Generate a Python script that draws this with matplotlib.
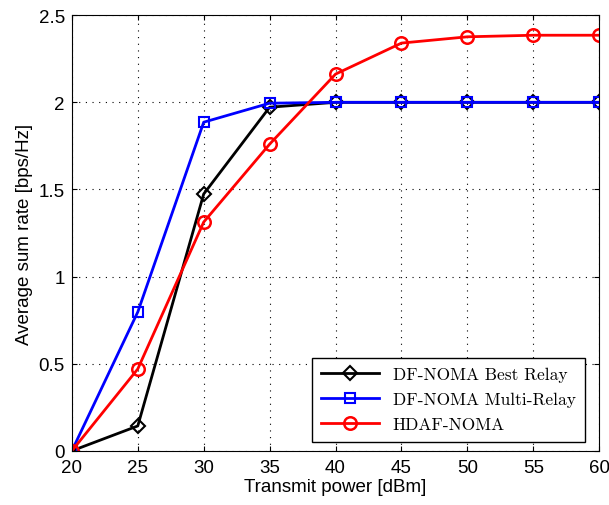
import matplotlib.pyplot as plt

power = [20, 25, 30, 35, 40, 45, 50, 55, 60]
best_relay = [0.0, 0.143, 1.474, 1.972, 2.0, 2.0, 2.0, 2.0, 2.0]
multi_relay = [0.0, 0.797, 1.886, 1.995, 2.0, 2.0, 2.0, 2.0, 2.0]
hdaf = [0.0, 0.470, 1.313, 1.760, 2.162, 2.340, 2.376, 2.385, 2.385]

plt.rcParams['font.family'] = ['Liberation Sans', 'DejaVu Sans']

fig = plt.figure(figsize=(6.09, 5.06), dpi=100)
ax = fig.add_axes([0.118, 0.107, 0.866, 0.861])

ax.plot(power, best_relay, color='black', marker='D', markersize=7, mfc='none', mew=1.5, lw=2, label='DF-NOMA Best Relay')
ax.plot(power, multi_relay, color='blue', marker='s', markersize=7, mfc='none', mew=1.5, lw=2, label='DF-NOMA Multi-Relay')
ax.plot(power, hdaf, color='red', marker='o', markersize=9, mfc='none', mew=1.8, lw=2, label='HDAF-NOMA')

ax.set_xlim(20, 60)
ax.set_ylim(0, 2.5)
ax.set_xticks(range(20, 61, 5))
ax.set_yticks([0, 0.5, 1, 1.5, 2, 2.5])
ax.set_yticklabels(['0', '0.5', '1', '1.5', '2', '2.5'])
ax.grid(True, linestyle=(0, (1, 5)), color='black', linewidth=0.8)
ax.tick_params(direction='in', top=True, right=True, labelsize=13.5)
ax.tick_params(axis='x', pad=6)
ax.tick_params(axis='y', pad=5)
ax.set_xlabel('Transmit power [dBm]', fontsize=13.5, labelpad=1)
ax.set_ylabel('Average sum rate [bps/Hz]', fontsize=13.5, labelpad=4)

leg = ax.legend(loc='lower right', prop={'family': ['cmr10', 'DejaVu Serif'], 'size': 12.5},
                fancybox=False, edgecolor='black', framealpha=1, handlelength=3.3,
                borderpad=0.55, labelspacing=0.55, borderaxespad=0,
                bbox_to_anchor=(0.973, 0.021))
leg.get_frame().set_linewidth(1.0)

fig.savefig('out.png', dpi=100)
